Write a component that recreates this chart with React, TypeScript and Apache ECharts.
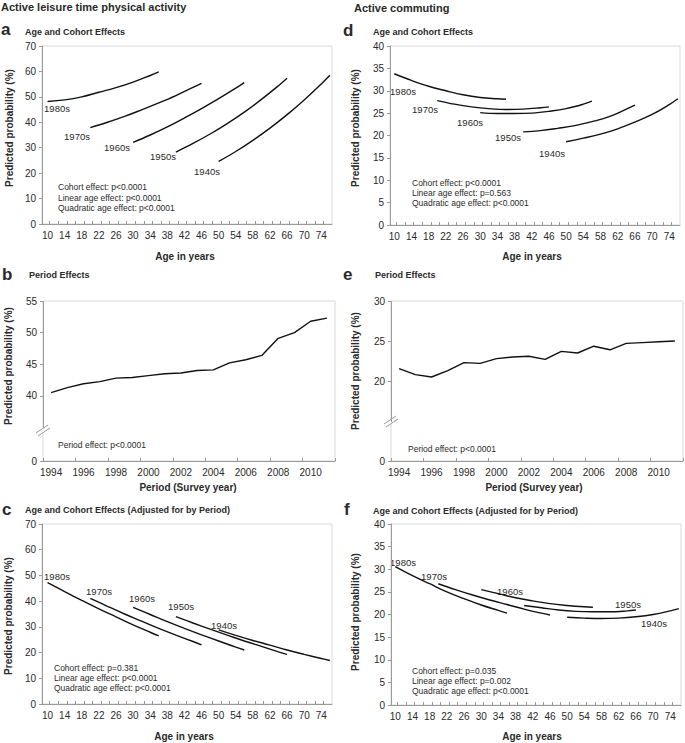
import React, { useEffect, useRef } from 'react';
import * as echarts from 'echarts';

// ---------- DATA ----------
const YEARS = ['1994','1995','1996','1997','1998','1999','2000','2001','2002','2003','2004','2005','2006','2007','2008','2009','2010','2011'];
const PERIOD_LTPA = [40.5,41.3,41.9,42.25,42.8,42.9,43.2,43.5,43.6,44.0,44.1,45.2,45.7,46.4,49.1,50.0,51.8,52.3];
const PERIOD_COMMUTE = [21.55,20.8,20.5,21.3,22.3,22.2,22.8,23.0,23.1,22.7,23.7,23.5,24.35,23.9,24.7,24.8,24.9,25.0];

const COHORTS = ['1980s','1970s','1960s','1950s','1940s'];
const AGES_1980S = [10,14,18,22,26,30,34,36];
const AGES_1970S = [20,24,28,32,36,40,44,46];
const AGES_1960S = [30,34,38,42,46,50,54,56];
const AGES_1950S = [40,44,48,52,56,60,64,66];
const AGES_1940S = [50,54,58,62,66,70,74,76];

// a: LTPA age & cohort
const LTPA_AC_1980S = [48.2,48.8,50.0,51.8,53.6,55.8,58.4,59.8];
const LTPA_AC_1970S = [37.9,40.0,42.3,44.9,47.6,50.5,53.7,55.3];
const LTPA_AC_1960S = [32.1,35.0,38.2,41.7,45.4,49.3,53.4,55.6];
const LTPA_AC_1950S = [28.3,31.7,35.4,39.5,44.0,49.0,54.4,57.3];
const LTPA_AC_1940S = [24.6,28.5,32.9,37.7,43.0,48.8,55.1,58.5];
// c: LTPA age & cohort adjusted for period
const LTPA_ADJ_1980S = [47.2,43.7,40.3,37.0,33.9,30.8,27.9,26.5];
const LTPA_ADJ_1970S = [41.1,38.0,35.0,32.2,29.4,26.8,24.3,23.0];
const LTPA_ADJ_1960S = [37.6,34.8,32.0,29.4,26.9,24.5,22.1,21.0];
const LTPA_ADJ_1950S = [34.0,31.5,29.1,26.8,24.5,22.4,20.3,19.3];
const LTPA_ADJ_1940S = [28.8,26.7,24.7,22.9,21.0,19.3,17.7,16.9];
// d: commuting age & cohort
const COM_AC_1980S = [33.8,32.3,31.0,30.0,29.1,28.5,28.2,28.1];
const COM_AC_1970S = [27.8,27.0,26.4,26.0,25.8,25.9,26.2,26.4];
const COM_AC_1960S = [25.1,24.9,24.9,25.0,25.4,26.0,27.0,27.7];
const COM_AC_1950S = [20.8,21.1,21.6,22.2,23.1,24.2,25.9,26.8];
const COM_AC_1940S = [18.6,19.4,20.3,21.5,23.0,24.7,26.9,28.2];
// f: commuting age & cohort adjusted for period
const COM_ADJ_1980S = [30.6,28.6,26.8,25.0,23.5,22.1,20.9,20.3];
const COM_ADJ_1970S = [26.8,25.5,24.3,23.2,22.2,21.2,20.3,19.9];
const COM_ADJ_1960S = [25.5,24.6,23.7,23.0,22.4,22.0,21.7,21.6];
const COM_ADJ_1950S = [22.0,21.5,21.0,20.7,20.6,20.6,20.8,21.0];
const COM_ADJ_1940S = [19.4,19.2,19.1,19.2,19.5,20.0,20.8,21.3];

const AGE_TICK_LABELS = [10,14,18,22,26,30,34,38,42,46,50,54,58,62,66,70,74];
const AGE_MINOR_TICKS = [10.5,12.5,14.5,16.5,18.5,20.5,22.5,24.5,26.5,28.5,30.5,32.5,34.5,36.5,38.5,40.5,42.5,44.5,46.5,48.5,50.5,52.5,54.5,56.5,58.5,60.5,62.5,64.5,66.5,68.5,70.5,72.5,74.5];
const LTPA_PERIOD_TICKS = [0,40,45,50,55];
const COM_PERIOD_TICKS = [0,20,25,30];

const ANNOT_A = ['Cohort effect: p<0.0001','Linear age effect: p<0.0001','Quadratic age effect: p<0.0001'];
const ANNOT_D = ['Cohort effect: p<0.0001','Linear age effect: p=0.563','Quadratic age effect: p<0.0001'];
const ANNOT_C = ['Cohort effect: p=0.381','Linear age effect: p<0.0001','Quadratic age effect: p<0.0001'];
const ANNOT_F = ['Cohort effect: p=0.035','Linear age effect: p=0.002','Quadratic age effect: p<0.0001'];
const ANNOT_PERIOD = 'Period effect: p<0.0001';

// ---------- STYLE ----------
const FONT = "'Liberation Sans', Arial, sans-serif";
const AXIS_C = '#9a9a9a';
const BOX_C = '#d9d9d9';
const LINE_C = '#111';
const TXT_C = '#2a2a2a';

const GRIDS = [
  { left: 42, top: 46, width: 290, height: 178 },   // a
  { left: 43, top: 301, width: 292, height: 160 },  // b
  { left: 42, top: 524, width: 290, height: 180 },  // c
  { left: 390, top: 46, width: 290, height: 179 },  // d
  { left: 391, top: 301, width: 292, height: 160 }, // e
  { left: 391, top: 524, width: 290, height: 181 }, // f
];

function zip(xs: number[], ys: number[]) {
  return xs.map((x, i) => [x, ys[i]]);
}

const AGE_SETS = [AGES_1980S, AGES_1970S, AGES_1960S, AGES_1950S, AGES_1940S];

export default function App() {
  const ref = useRef<HTMLDivElement>(null);
  useEffect(() => {
    if (!ref.current) return;
    const chart = echarts.init(ref.current, null, { renderer: 'svg' });

    const axisLine = { show: true, lineStyle: { color: AXIS_C, width: 1 } };
    const lbl = { color: TXT_C, fontSize: 10, fontFamily: FONT };

    const ageX = (gi: number, min: number, max: number) => ({
      type: 'value', gridIndex: gi, min, max,
      axisLine,
      axisTick: { show: true, inside: true, length: 3, customValues: AGE_MINOR_TICKS, lineStyle: { color: AXIS_C } },
      axisLabel: { ...lbl, margin: 6, customValues: AGE_TICK_LABELS },
      splitLine: { show: false },
    });
    const yearX = (gi: number) => ({
      type: 'category', gridIndex: gi, data: YEARS, boundaryGap: true,
      axisLine,
      axisTick: { show: true, inside: true, length: 3, interval: 1, lineStyle: { color: AXIS_C } },
      axisLabel: { ...lbl, margin: 6, interval: 1 },
      splitLine: { show: false },
    });
    const valY = (gi: number, max: number, interval: number) => ({
      type: 'value', gridIndex: gi, min: 0, max, interval,
      axisLine,
      axisTick: { show: true, inside: false, length: 3, lineStyle: { color: AXIS_C } },
      axisLabel: { ...lbl, margin: 6 },
      splitLine: { show: false },
    });
    const brkY = (gi: number, max: number, brkEnd: number, gap: string, ticks: number[]) => ({
      type: 'value', gridIndex: gi, min: 0, max, interval: 5,
      breaks: [{ start: 0, end: brkEnd, gap }],
      breakArea: { show: false },
      axisLine,
      axisTick: { show: true, inside: false, length: 3, customValues: ticks, lineStyle: { color: AXIS_C } },
      axisLabel: { ...lbl, margin: 6, customValues: ticks },
      splitLine: { show: false },
    });

    const cohortSeries = (gi: number, sets: number[][]) =>
      sets.map((vals, k) => ({
        type: 'line', name: COHORTS[k], xAxisIndex: gi, yAxisIndex: gi,
        data: zip(AGE_SETS[k], vals), smooth: 0.4, showSymbol: false, symbol: 'none',
        lineStyle: { color: LINE_C, width: 1.4 }, silent: true,
      }));

    const series: any[] = [
      ...cohortSeries(0, [LTPA_AC_1980S, LTPA_AC_1970S, LTPA_AC_1960S, LTPA_AC_1950S, LTPA_AC_1940S]),
      { type: 'line', xAxisIndex: 1, yAxisIndex: 1, data: PERIOD_LTPA, showSymbol: false, symbol: 'none', lineStyle: { color: LINE_C, width: 1.4 } },
      ...cohortSeries(2, [LTPA_ADJ_1980S, LTPA_ADJ_1970S, LTPA_ADJ_1960S, LTPA_ADJ_1950S, LTPA_ADJ_1940S]),
      ...cohortSeries(3, [COM_AC_1980S, COM_AC_1970S, COM_AC_1960S, COM_AC_1950S, COM_AC_1940S]),
      { type: 'line', xAxisIndex: 4, yAxisIndex: 4, data: PERIOD_COMMUTE, showSymbol: false, symbol: 'none', lineStyle: { color: LINE_C, width: 1.4 } },
      ...cohortSeries(5, [COM_ADJ_1980S, COM_ADJ_1970S, COM_ADJ_1960S, COM_ADJ_1950S, COM_ADJ_1940S]),
    ];

    const txt = (text: string, x: number, y: number, size: number, bold = false, align = 'left', rot = 0) => ({
      type: 'text', x, y, rotation: rot, silent: true,
      style: {
        text, fill: TXT_C, fontSize: size, fontWeight: bold ? 'bold' : 'normal', fontFamily: FONT,
        textAlign: align, align, textVerticalAlign: 'middle', verticalAlign: 'middle',
      },
    });

    const g: any[] = [
      txt('Active leisure time physical activity', 1, 7, 11, true),
      txt('Active commuting', 354, 8, 11, true),
      txt('a', 1, 29, 17, true), txt('b', 2, 274, 17, true), txt('c', 2, 509, 17, true),
      txt('d', 343, 30, 17, true), txt('e', 343, 274, 17, true), txt('f', 344, 509, 17, true),
      txt('Age and Cohort Effects', 25, 32, 9, true),
      txt('Period Effects', 29, 275, 9, true),
      txt('Age and Cohort Effects (Adjusted for by Period)', 25, 510, 9, true),
      txt('Age and Cohort Effects', 373, 32, 9, true),
      txt('Period Effects', 375, 275, 9, true),
      txt('Age and Cohort Effects (Adjusted for by Period)', 373, 511, 9, true),
      txt('Age in years', 185, 256, 10, true, 'center'),
      txt('Age in years', 532, 256, 10, true, 'center'),
      txt('Period (Survey year)', 188, 487, 10, true, 'center'),
      txt('Period (Survey year)', 534, 487, 10, true, 'center'),
      txt('Age in years', 184, 736, 10, true, 'center'),
      txt('Age in years', 532, 736, 10, true, 'center'),
      txt('Predicted probability (%)', 9, 128, 10, true, 'center', Math.PI / 2),
      txt('Predicted probability (%)', 8, 366, 10, true, 'center', Math.PI / 2),
      txt('Predicted probability (%)', 8, 616, 10, true, 'center', Math.PI / 2),
      txt('Predicted probability (%)', 355, 128, 10, true, 'center', Math.PI / 2),
      txt('Predicted probability (%)', 355, 371, 10, true, 'center', Math.PI / 2),
      txt('Predicted probability (%)', 355, 612, 10, true, 'center', Math.PI / 2),
      ...ANNOT_A.map((t, i) => txt(t, 58, 187 + i * 10.5, 8.5)),
      ...ANNOT_D.map((t, i) => txt(t, 412, 183 + i * 10, 8.5)),
      ...ANNOT_C.map((t, i) => txt(t, 54, 668 + i * 10, 8.5)),
      ...ANNOT_F.map((t, i) => txt(t, 412, 671 + i * 10, 8.5)),
      txt(ANNOT_PERIOD, 58, 445, 8.5),
      txt(ANNOT_PERIOD, 408, 449, 8.5),
    ];
    // cohort labels
    const labelPos = [
      [[57, 108], [77, 136], [117, 147], [163, 156], [207, 171]],
      [[403, 91], [425, 109], [470, 122], [508, 137], [552, 153]],
      [[57, 576], [99, 591], [142, 598], [181, 606], [224, 625]],
      [[403, 562], [434, 576], [510, 591], [628, 604], [654, 623]],
    ];
    labelPos.forEach(set => set.forEach((p, k) => g.push(txt(COHORTS[k], p[0], p[1], 9.5, false, 'center'))));
    // axis break marks
    const brk = (cx: number, cy: number) => [
      { type: 'polygon', silent: true, shape: { points: [[cx - 7, cy + 4], [cx + 5, cy - 4], [cx + 7, cy - 1], [cx - 5, cy + 7]] }, style: { fill: '#fff' } },
      { type: 'line', silent: true, shape: { x1: cx - 7, y1: cy + 4, x2: cx + 5, y2: cy - 4 }, style: { stroke: AXIS_C, lineWidth: 1 } },
      { type: 'line', silent: true, shape: { x1: cx - 5, y1: cy + 7, x2: cx + 7, y2: cy - 1 }, style: { stroke: AXIS_C, lineWidth: 1 } },
    ];
    g.push(...brk(43, 429), ...brk(391, 420));

    chart.setOption({
      animation: false,
      backgroundColor: '#fff',
      grid: GRIDS.map(r => ({ ...r, show: true, borderColor: BOX_C, borderWidth: 1, backgroundColor: 'transparent', containLabel: false })),
      xAxis: [ageX(0, 8.7, 76.5), yearX(1), ageX(2, 8.7, 76.5), ageX(3, 9.0, 76.5), yearX(4), ageX(5, 9.0, 76.5)],
      yAxis: [
        valY(0, 70, 10),
        brkY(1, 55, 35, '21%', LTPA_PERIOD_TICKS),
        valY(2, 70, 10),
        valY(3, 40, 5),
        brkY(4, 30, 15, '25%', COM_PERIOD_TICKS),
        valY(5, 40, 5),
      ],
      series,
      graphic: { elements: g },
    });
    return () => chart.dispose();
  }, []);
  return <div ref={ref} style={{ position: 'absolute', left: 0, top: 0, width: 685, height: 743 }} />;
}
